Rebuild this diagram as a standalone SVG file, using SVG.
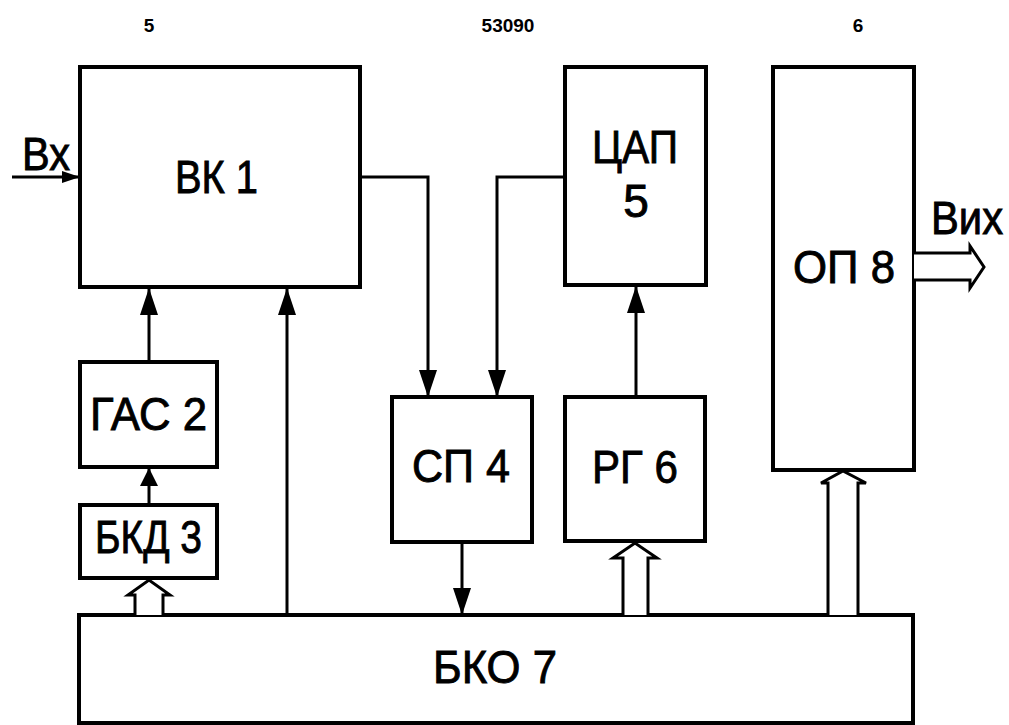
<svg xmlns="http://www.w3.org/2000/svg" width="1009" height="725" viewBox="0 0 1009 725">
<style>
.box{fill:#fff;stroke:#000;stroke-width:4}
.lbl{font-family:"Liberation Sans",Arial,sans-serif;font-size:46px;fill:#000;stroke:#000;stroke-width:0.9}
.top{font-family:"Liberation Sans",Arial,sans-serif;font-size:19px;font-weight:bold;fill:#000;text-anchor:middle}
.ln{fill:none;stroke:#000;stroke-width:3}
.hol{fill:#fff;stroke:#000;stroke-width:3;stroke-linejoin:miter}
</style>
<defs>
<marker id="ah" markerUnits="userSpaceOnUse" viewBox="0 0 27 18" refX="26" refY="9" markerWidth="27" markerHeight="18" orient="auto"><path d="M0,0 L27,9 L0,18 z" fill="#000"/></marker>
<marker id="ahs" markerUnits="userSpaceOnUse" viewBox="0 0 18 18" refX="17" refY="9" markerWidth="18" markerHeight="18" orient="auto"><path d="M0,0 L18,9 L0,18 z" fill="#000"/></marker>
<marker id="ahx" markerUnits="userSpaceOnUse" viewBox="0 0 18 12" refX="17" refY="6" markerWidth="18" markerHeight="12" orient="auto"><path d="M0,0 L18,6 L0,12 z" fill="#000"/></marker>
</defs>
<rect width="1009" height="725" fill="#fff"/>
<text class="top" x="149" y="32">5</text>
<text class="top" x="508" y="32">53090</text>
<text class="top" x="858" y="32">6</text>

<g id="bk1"><rect class="box" x="80" y="67" width="280" height="220"/><text class="lbl" x="175" y="193" font-size="48" textLength="83" lengthAdjust="spacingAndGlyphs">ВК 1</text></g>
<g id="cap5"><rect class="box" x="565" y="67" width="141" height="218"/><text class="lbl" x="592" y="163" textLength="86" lengthAdjust="spacingAndGlyphs">ЦАП</text><text class="lbl" x="636" y="217" text-anchor="middle">5</text></g>
<g id="op8"><rect class="box" x="773" y="67" width="141" height="403"/><text class="lbl" x="793" y="283" textLength="102" lengthAdjust="spacingAndGlyphs">ОП 8</text></g>
<g id="gas2"><rect class="box" x="80" y="362" width="137" height="105"/><text class="lbl" x="90" y="430" textLength="117" lengthAdjust="spacingAndGlyphs">ГАС 2</text></g>
<g id="bkd3"><rect class="box" x="80" y="505" width="137" height="73"/><text class="lbl" x="95" y="553" font-size="40" textLength="107" lengthAdjust="spacingAndGlyphs">БКД 3</text></g>
<g id="sp4"><rect class="box" x="392" y="397" width="140" height="145"/><text class="lbl" x="412" y="482" textLength="98" lengthAdjust="spacingAndGlyphs">СП 4</text></g>
<g id="rg6"><rect class="box" x="565" y="397" width="140" height="144"/><text class="lbl" x="592" y="483" textLength="86" lengthAdjust="spacingAndGlyphs">РГ 6</text></g>
<g id="bko7"><rect class="box" x="79" y="615" width="834" height="108"/><text class="lbl" x="433" y="683" textLength="124" lengthAdjust="spacingAndGlyphs">БКО 7</text></g>

<g id="labels">
<text class="lbl" x="22" y="170" font-size="44" textLength="48" lengthAdjust="spacingAndGlyphs">Вх</text>
<text class="lbl" x="931" y="234" font-size="36" textLength="72" lengthAdjust="spacingAndGlyphs">Вих</text>
</g>

<g id="connectors">
<path class="ln" d="M12,177 L79,177" marker-end="url(#ahx)"/>
<path class="ln" d="M149,362 L149,289" marker-end="url(#ah)"/>
<path class="ln" d="M149,505 L149,469" marker-end="url(#ahs)"/>
<path class="ln" d="M287,615 L287,289" marker-end="url(#ah)"/>
<path class="ln" d="M360,177 L428,177 L428,396" marker-end="url(#ah)"/>
<path class="ln" d="M565,177 L497,177 L497,396" marker-end="url(#ah)"/>
<path class="ln" d="M636,397 L636,287" marker-end="url(#ah)"/>
<path class="ln" d="M462,542 L462,614" marker-end="url(#ah)"/>
<path class="hol" d="M135,615 L135,595 L128,595 L149,580 L170,595 L163,595 L163,615"/>
<path class="hol" d="M623,615 L623,558 L613,558 L635,543 L657,558 L648,558 L648,615"/>
<path class="hol" d="M828,615 L828,483 L821,483 L843,471 L866,483 L858,483 L858,615"/>
<path class="hol" d="M914,253 L970,253 L970,246 L984,267 L970,288 L970,280 L914,280"/>
</g>
</svg>
